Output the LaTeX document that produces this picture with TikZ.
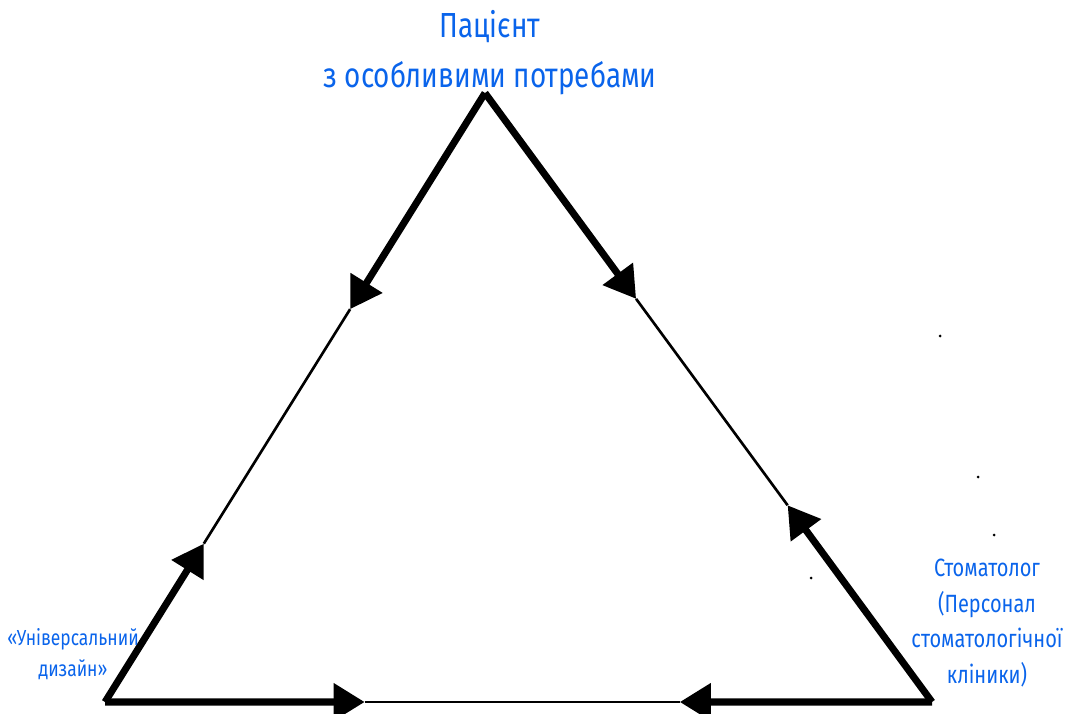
\documentclass[tikz,border=0pt]{standalone}
\usepackage{fontspec}
\setmainfont{Fira Sans}[FakeStretch=0.8]
\usepackage{tikz}
\usetikzlibrary{arrows.meta, calc}
\definecolor{myblue}{RGB}{10,100,235}
\tikzset{
  label/.style={text=myblue, align=center, inner sep=0pt},
  thin/.style={line width=0.75pt, black},
  thickarrow/.style={line width=2pt, black, line cap=butt,
    -{Triangle[length=0.31cm, width=0.36cm]}},
  speck/.style={circle, fill=black, inner sep=0pt, minimum size=0.03cm}
}

\begin{document}
\begin{tikzpicture}[x=0.01cm, y=-0.01cm]
  \useasboundingbox (0,0) rectangle (1065,713);

  % corners
  \coordinate (apex) at (485,93);
  \coordinate (left) at (105,702);
  \coordinate (right) at (932,702);

  % arrow tips
  \coordinate (tipAL) at ($(apex)!0.355!(left)$);
  \coordinate (tipAR) at ($(apex)!0.338!(right)$);
  \coordinate (tipLA) at ($(left)!0.26!(apex)$);
  \coordinate (tipRA) at ($(right)!0.323!(apex)$);
  \coordinate (tipLR) at ($(left)!0.314!(right)$);
  \coordinate (tipRL) at ($(right)!0.305!(left)$);

  % thin sides
  \draw[thin] (tipAL) -- (tipLA);
  \draw[thin] (tipAR) -- (tipRA);
  \draw[thin] (tipLR) -- (tipRL);

  % thick arrows
  \draw[thickarrow] (apex) -- (tipAL);
  \draw[thickarrow] (apex) -- (tipAR);
  \draw[thickarrow] (left) -- (tipLA);
  \draw[thickarrow] (right) -- (tipRA);
  \draw[thickarrow] (left) -- (tipLR);
  \draw[thickarrow] (right) -- (tipRL);

  % labels
  \node[label, font=\fontsize{9.9}{14.2}\selectfont] (patient) at (490,53)
    {Пацієнт\\з особливими потребами};
  \node[label, font=\fontsize{6.2}{9}\selectfont] (design) at (73,654)
    {«Універсальний\\дизайн»};
  \node[label, font=\fontsize{7.1}{10.2}\selectfont] (dentist) at (987,623)
    {Стоматолог\\(Персонал\\стоматологічної\\кліники)};

  % specks
  \node[speck] (s1) at (940,336) {};
  \node[speck] (s2) at (978,477) {};
  \node[speck] (s3) at (994,535) {};
  \node[speck] (s4) at (811,578) {};
\end{tikzpicture}
\end{document}
